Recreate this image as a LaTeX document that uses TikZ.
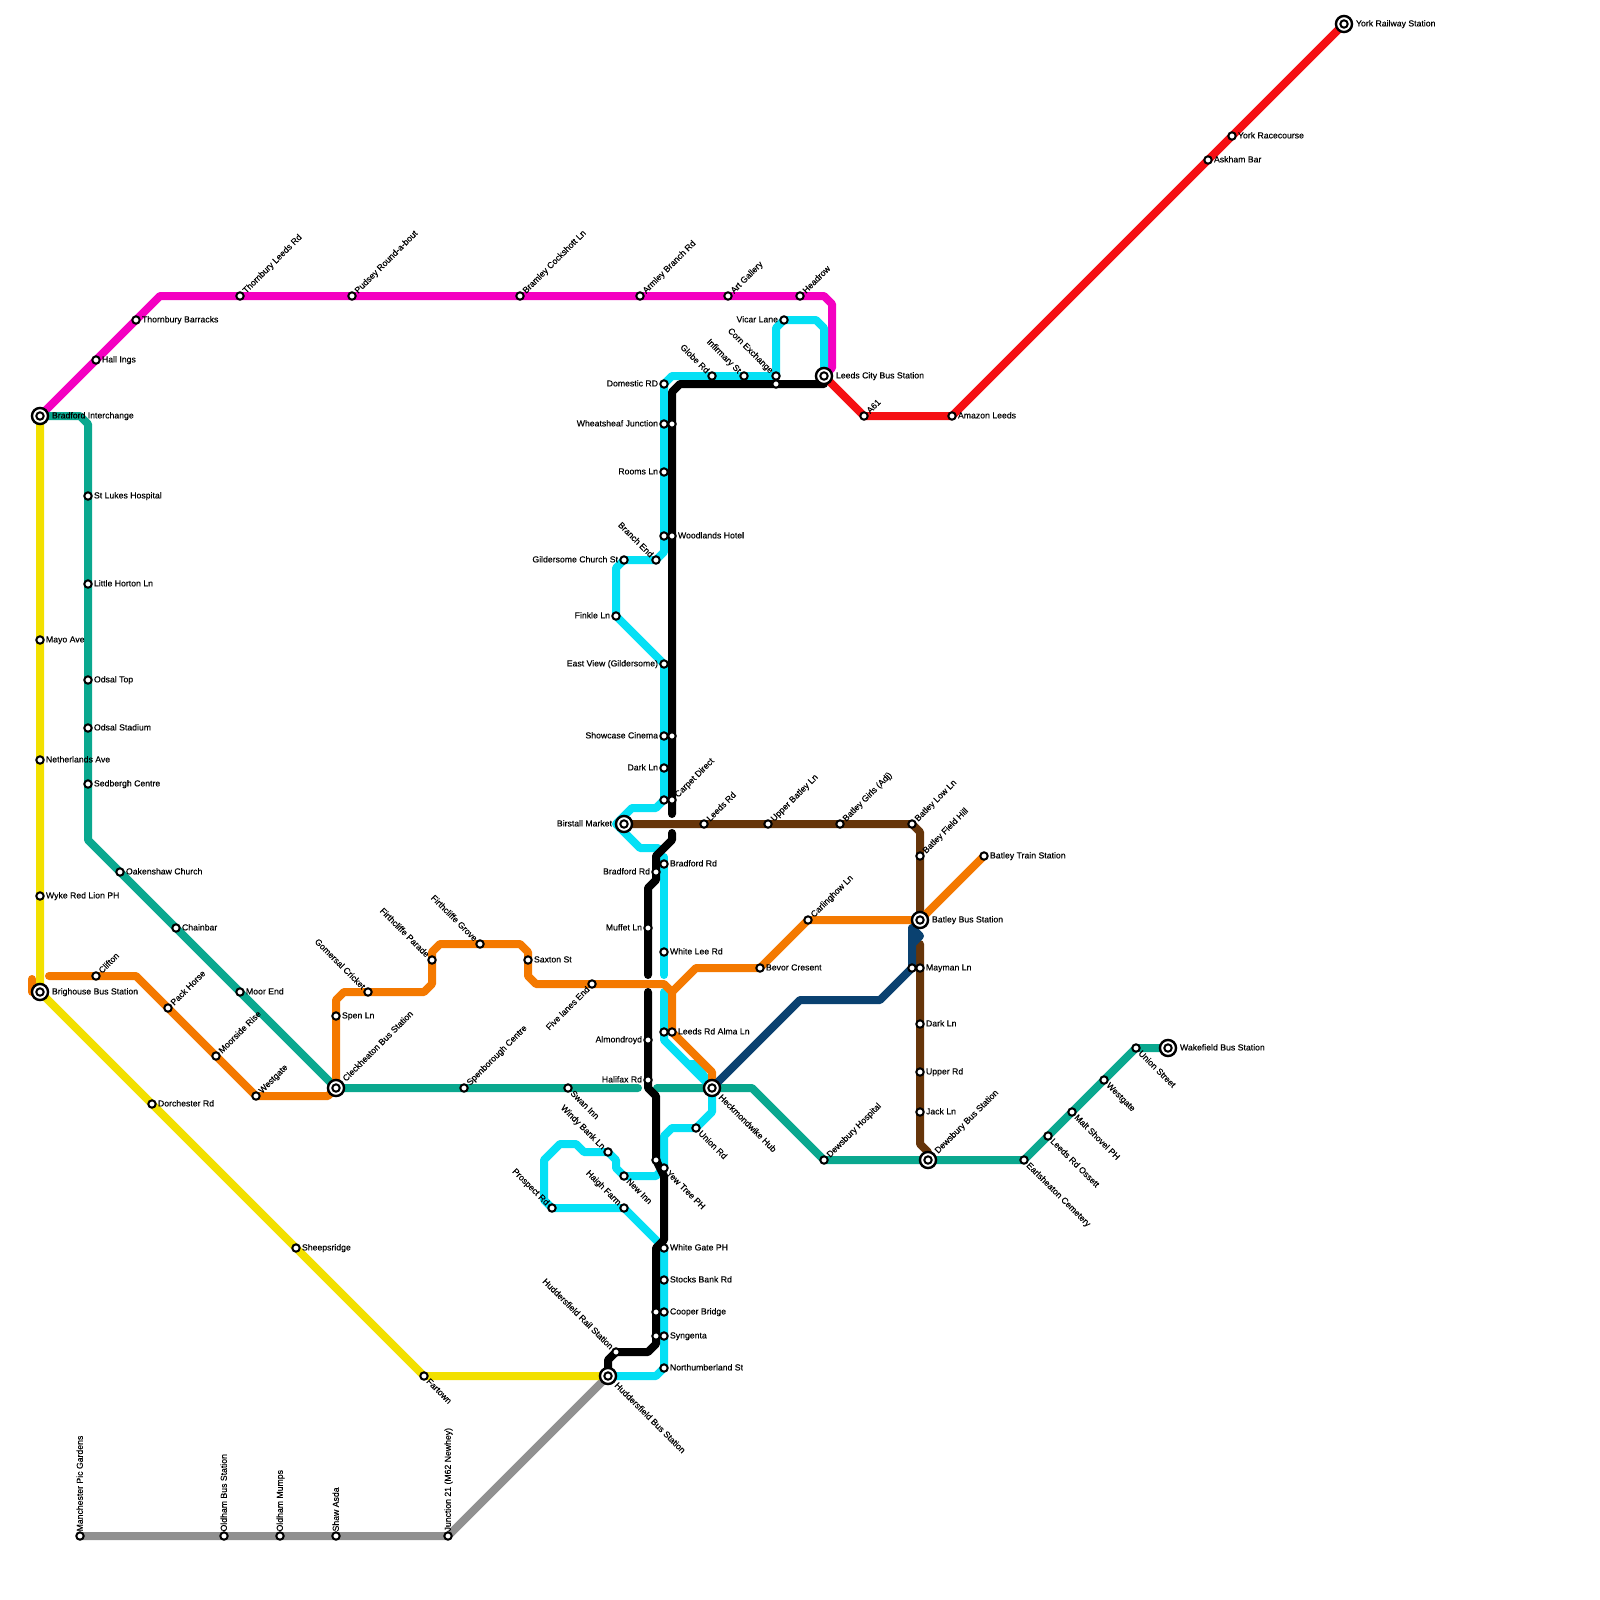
\documentclass[tikz,border=0pt]{standalone}
\usepackage{fontspec}
\setmainfont[FakeBold=0.3]{Liberation Sans}
\pgfdeclarelayer{lineslayer}
\pgfsetlayers{lineslayer,main}
\definecolor{cTeal}{HTML}{0AA88F}
\definecolor{cMag}{HTML}{F400C1}
\definecolor{cRed}{HTML}{F50F13}
\definecolor{cOra}{HTML}{F47900}
\definecolor{cYel}{HTML}{F2E000}
\definecolor{cCya}{HTML}{05E0F5}
\definecolor{cBro}{HTML}{66350A}
\definecolor{cNav}{HTML}{0A4170}
\definecolor{cGre}{HTML}{909090}
\tikzset{
  stn/.style={circle,draw=black,fill=white,line width=1pt,minimum size=3.7pt,inner sep=0pt,outer sep=0pt},
  hubo/.style={circle,draw=black,fill=white,line width=1.2pt,minimum size=8.05pt,inner sep=0pt,outer sep=0pt},
  lbl/.style={inner sep=0pt,outer sep=0pt,font=\fontsize{4.35pt}{5pt}\selectfont,text=black},
  R/.style={lbl,anchor=base west,xshift=3pt,yshift=-1.2pt},
  L/.style={lbl,anchor=base east,xshift=-3pt,yshift=-1.2pt},
  HR/.style={lbl,anchor=base west,xshift=6pt,yshift=-1.2pt},
  HL/.style={lbl,anchor=base east,xshift=-6pt,yshift=-1.2pt},
  UR/.style={lbl,anchor=base west,xshift=3.1pt,yshift=1.1pt,rotate=45},
  DR/.style={lbl,anchor=base west,xshift=1pt,yshift=-3pt,rotate=-45},
  UL/.style={lbl,anchor=base east,xshift=-3.1pt,yshift=1.1pt,rotate=-45},
  DL/.style={lbl,anchor=base east,xshift=-0.9pt,yshift=-3pt,rotate=45},
  HUR/.style={lbl,anchor=base west,xshift=5.1pt,yshift=3.1pt,rotate=45},
  HDR/.style={lbl,anchor=base west,xshift=3.1pt,yshift=-5pt,rotate=-45},
  V/.style={lbl,anchor=base west,xshift=1.4pt,yshift=2.3pt,rotate=90},
  route/.style={line width=4pt,line cap=round,line join=round},
}
\newcommand{\st}[5]{\node[stn] (#1) at (#2,#3) {};\node[#4] (#1-t) at (#2,#3) {#5};}
\newcommand{\sn}[3]{\node[stn] (#1) at (#2,#3) {};}
\newcommand{\hb}[5]{\node[hubo] (#1) at (#2,#3) {};\node[stn] (#1-i) at (#2,#3) {};\node[#4] (#1-t) at (#2,#3) {#5};}
\begin{document}
\begin{tikzpicture}[x=0.5pt,y=-0.5pt]
\useasboundingbox (0,0) rectangle (1600,1600);
% magenta
\st{thb}{136}{320}{R}{Thornbury Barracks}
\st{hal}{96}{360}{R}{Hall Ings}
\st{tlr}{240}{296}{UR}{Thornbury Leeds Rd}
\st{pud}{352}{296}{UR}{Pudsey Round-a-bout}
\st{bcl}{520}{296}{UR}{Bramley Cockshott Ln}
\st{abr}{640}{296}{UR}{Armley Branch Rd}
\st{art}{728}{296}{UR}{Art Gallery}
\st{hea}{800}{296}{UR}{Headrow}
% red
\st{a61}{864}{416}{UR}{A61}
\st{ama}{952}{416}{R}{Amazon Leeds}
\st{ask}{1208}{160}{R}{Askham Bar}
\st{yrc}{1232}{136}{R}{York Racecourse}
% teal
\st{slh}{88}{496}{R}{St Lukes Hospital}
\st{lhl}{88}{584}{R}{Little Horton Ln}
\st{odt}{88}{680}{R}{Odsal Top}
\st{ods}{88}{728}{R}{Odsal Stadium}
\st{sed}{88}{784}{R}{Sedbergh Centre}
\st{oak}{120}{872}{R}{Oakenshaw Church}
\st{cha}{176}{928}{R}{Chainbar}
\st{moo}{240}{992}{R}{Moor End}
\st{spe}{464}{1088}{UR}{Spenborough Centre}
\st{swa}{568}{1088}{DR}{Swan Inn}
\st{dho}{824}{1160}{UR}{Dewsbury Hospital}
\st{ear}{1024}{1160}{DR}{Earlsheaton Cemetery}
\st{lro}{1048}{1136}{DR}{Leeds Rd Ossett}
\st{mal}{1072}{1112}{DR}{Malt Shovel PH}
\st{wes}{1104}{1080}{DR}{Westgate}
\st{uni}{1136}{1048}{DR}{Union Street}
% yellow
\st{may}{40}{640}{R}{Mayo Ave}
\st{net}{40}{760}{R}{Netherlands Ave}
\st{wyk}{40}{896}{R}{Wyke Red Lion PH}
\st{dor}{152}{1104}{R}{Dorchester Rd}
\st{she}{296}{1248}{R}{Sheepsridge}
\st{far}{424}{1376}{DR}{Fartown}
% grey
\st{man}{80}{1536}{V}{Manchester Pic Gardens}
\st{olb}{224}{1536}{V}{Oldham Bus Station}
\st{olm}{280}{1536}{V}{Oldham Mumps}
\st{sha}{336}{1536}{V}{Shaw Asda}
\st{j21}{448}{1536}{V}{Junction 21 (M62 Newhey)}
% orange
\st{cli}{96}{976}{UR}{Clifton}
\st{pac}{168}{1008}{UR}{Pack Horse}
\st{mor}{216}{1056}{UR}{Moorside Rise}
\st{wgt}{256}{1096}{UR}{Westgate}
\st{spl}{336}{1016}{R}{Spen Ln}
\st{gom}{368}{992}{UL}{Gomersal Cricket}
\st{fip}{432}{960}{UL}{Firthcliffe Parade}
\st{fig}{480}{944}{UL}{Firthcliffe Grove}
\st{sax}{528}{960}{R}{Saxton St}
\st{fiv}{592}{984}{DL}{Five lanes End}
\st{bev}{760}{968}{R}{Bevor Cresent}
\st{car}{808}{920}{UR}{Carlinghow Ln}
\st{btr}{984}{856}{R}{Batley Train Station}
\st{alm}{672}{1032}{R}{Leeds Rd Alma Ln}
% cyan
\st{vic}{784}{320}{L}{Vicar Lane}
\st{glo}{712}{376}{UL}{Globe Rd}
\st{inf}{744}{376}{UL}{Infirmary St}
\st{cor}{776}{376}{UL}{Corn Exchange}
\st{dom}{664}{384}{L}{Domestic RD}
\st{whe}{664}{424}{L}{Wheatsheaf Junction}
\st{roo}{664}{472}{L}{Rooms Ln}
\sn{cwo}{664}{536}
\st{bra}{656}{560}{UL}{Branch End}
\st{gil}{624}{560}{L}{Gildersome Church St}
\st{fin}{616}{616}{L}{Finkle Ln}
\st{eas}{664}{664}{L}{East View (Gildersome)}
\st{sho}{664}{736}{L}{Showcase Cinema}
\st{dar}{664}{768}{L}{Dark Ln}
\sn{cca}{664}{800}
\st{brc}{664}{864}{R}{Bradford Rd}
\st{whl}{664}{952}{R}{White Lee Rd}
\sn{cal}{664}{1032}
\st{unr}{696}{1128}{DR}{Union Rd}
\st{yew}{664}{1168}{DR}{Yew Tree PH}
\st{new}{624}{1176}{DR}{New Inn}
\st{win}{608}{1152}{UL}{Windy Bank Ln}
\st{pro}{552}{1208}{UL}{Prospect Rd}
\st{hai}{624}{1208}{UL}{Haigh Farm}
\st{wga}{664}{1248}{R}{White Gate PH}
\st{sto}{664}{1280}{R}{Stocks Bank Rd}
\st{coo}{664}{1312}{R}{Cooper Bridge}
\st{syn}{664}{1336}{R}{Syngenta}
\st{nor}{664}{1368}{R}{Northumberland St}
% black
\sn{bcx}{776}{384}
\sn{bwh}{672}{424}
\st{woo}{672}{536}{R}{Woodlands Hotel}
\sn{bsh}{672}{736}
\st{cpd}{672}{800}{UR}{Carpet Direct}
\st{brb}{656}{872}{L}{Bradford Rd}
\st{muf}{648}{928}{L}{Muffet Ln}
\st{aln}{648}{1040}{L}{Almondroyd}
\st{hax}{648}{1080}{L}{Halifax Rd}
\sn{byt}{656}{1160}
\sn{bcb}{656}{1312}
\sn{bsy}{656}{1336}
\st{hrs}{616}{1352}{UL}{Huddersfield Rail Station}
% brown
\st{lee}{704}{824}{UR}{Leeds Rd}
\st{uba}{768}{824}{UR}{Upper Batley Ln}
\st{bgi}{840}{824}{UR}{Batley Girls (Adj)}
\st{bll}{912}{824}{UR}{Batley Low Ln}
\st{bfh}{920}{856}{UR}{Batley Field Hill}
\st{mln}{920}{968}{R}{Mayman Ln}
\sn{nml}{912}{968}
\st{dkl}{920}{1024}{R}{Dark Ln}
\st{upr}{920}{1072}{R}{Upper Rd}
\st{jak}{920}{1112}{R}{Jack Ln}
% interchanges
\hb{bfd}{40}{416}{HR}{Bradford Interchange}
\hb{bri}{40}{992}{HR}{Brighouse Bus Station}
\hb{cle}{336}{1088}{HUR}{Cleckheaton Bus Station}
\hb{hub}{712}{1088}{HDR}{Heckmondwike Hub}
\hb{hud}{608}{1376}{HDR}{Huddersfield Bus Station}
\hb{lcb}{824}{376}{HR}{Leeds City Bus Station}
\hb{yrs}{1344}{24}{HR}{York Railway Station}
\hb{bir}{624}{824}{HL}{Birstall Market}
\hb{bat}{920}{920}{HR}{Batley Bus Station}
\hb{dew}{928}{1160}{HUR}{Dewsbury Bus Station}
\hb{wak}{1168}{1048}{HR}{Wakefield Bus Station}
\begin{pgfonlayer}{lineslayer}
\fill[white] (0,0) rectangle (1600,1600);
% grey
\draw[route,cGre] (man.center) -- (olb.center) -- (olm.center) -- (sha.center) -- (j21.center) -- (hud.center);
% yellow
\draw[route,cYel] (bfd.center) -- (may.center) -- (net.center) -- (wyk.center) -- (bri.center) -- (dor.center) -- (she.center) -- (far.center) -- (hud.center);
% magenta
\draw[route,cMag] (bfd.center) -- (hal.center) -- (thb.center) -- (160,296) -- (tlr.center) -- (pud.center) -- (bcl.center) -- (abr.center) -- (art.center) -- (hea.center) -- (824,296) -- (832,304) -- (832,368) -- (lcb.center);
% red
\draw[route,cRed] (lcb.center) -- (a61.center) -- (ama.center) -- (ask.center) -- (yrc.center) -- (yrs.center);
% teal
\draw[route,cTeal] (bfd.center) -- (80,416) -- (88,424) -- (slh.center) -- (lhl.center) -- (odt.center) -- (ods.center) -- (sed.center) -- (88,840) -- (oak.center) -- (cha.center) -- (moo.center) -- (cle.center) -- (spe.center) -- (swa.center) -- (638,1088);
\draw[route,cTeal] (657,1088) -- (hub.center) -- (752,1088) -- (dho.center) -- (dew.center) -- (ear.center) -- (lro.center) -- (mal.center) -- (wes.center) -- (uni.center) -- (wak.center);
% cyan
\draw[route,cCya] (lcb.center) -- (824,328) -- (816,320) -- (vic.center) -- (776,328) -- (cor.center) -- (inf.center) -- (glo.center) -- (672,376) -- (dom.center) -- (whe.center) -- (roo.center) -- (cwo.center) -- (664,552) -- (bra.center) -- (gil.center) -- (616,568) -- (fin.center) -- (eas.center) -- (sho.center) -- (dar.center) -- (cca.center) -- (656,808) -- (632,808) -- (616,824) -- (640,848) -- (658,848);
\draw[route,cCya] (664,857) -- (brc.center) -- (whl.center) -- (664,975);
\draw[route,cCya] (664,992) -- (cal.center) -- (664,1040) -- (hub.center);
\draw[route,cCya] (688,1064) -- (696,1064) -- (hub.center);
\draw[route,cCya] (hub.center) -- (712,1112) -- (unr.center) -- (672,1128) -- (664,1136) -- (yew.center);
\draw[route,cCya] (yew.center) -- (656,1176) -- (new.center) -- (616,1168) -- (616,1160) -- (win.center) -- (584,1152) -- (576,1144) -- (560,1144) -- (544,1160) -- (544,1200) -- (pro.center) -- (hai.center) -- (wga.center) -- (sto.center) -- (coo.center) -- (syn.center) -- (nor.center) -- (656,1376) -- (hud.center);
% brown
\draw[route,cBro] (bir.center) -- (lee.center) -- (uba.center) -- (bgi.center) -- (bll.center) -- (920,832) -- (bfh.center) -- (bat.center);
\draw[route,cBro] (920,944) -- (mln.center) -- (dkl.center) -- (upr.center) -- (jak.center) -- (920,1144) -- (928,1152) -- (dew.center);
% orange
\draw[route,cOra] (bri.center) -- (32,992) -- (32,979);
\draw[route,cOra] (49,976) -- (cli.center) -- (136,976) -- (pac.center) -- (mor.center) -- (wgt.center) -- (328,1096) -- (cle.center) -- (spl.center) -- (336,1000) -- (344,992) -- (gom.center) -- (424,992) -- (432,984) -- (fip.center) -- (432,952) -- (440,944) -- (fig.center) -- (520,944) -- (528,952) -- (sax.center) -- (528,976) -- (536,984) -- (fiv.center) -- (664,984) -- (672,992) -- (696,968) -- (bev.center) -- (car.center) -- (bat.center) -- (btr.center);
\draw[route,cOra] (672,992) -- (alm.center) -- (712,1072) -- (hub.center);
% navy
\draw[route,cNav] (hub.center) -- (800,1000) -- (880,1000) -- (nml.center) -- (912,928) -- (920,936) -- (912,944);
% black
\draw[route,black] (lcb.center) -- (824,384) -- (bcx.center) -- (680,384) -- (672,392) -- (bwh.center) -- (woo.center) -- (bsh.center) -- (cpd.center) -- (672,814);
\draw[route,black] (672,833) -- (672,840) -- (656,856) -- (brb.center) -- (656,880) -- (648,888) -- (muf.center) -- (648,975);
\draw[route,black] (648,992) -- (aln.center) -- (hax.center) -- (648,1088) -- (656,1096) -- (byt.center) -- (664,1176) -- (664,1240) -- (656,1248) -- (bcb.center) -- (bsy.center) -- (656,1344) -- (648,1352) -- (hrs.center) -- (608,1360) -- (hud.center);
\end{pgfonlayer}
\end{tikzpicture}
\end{document}
